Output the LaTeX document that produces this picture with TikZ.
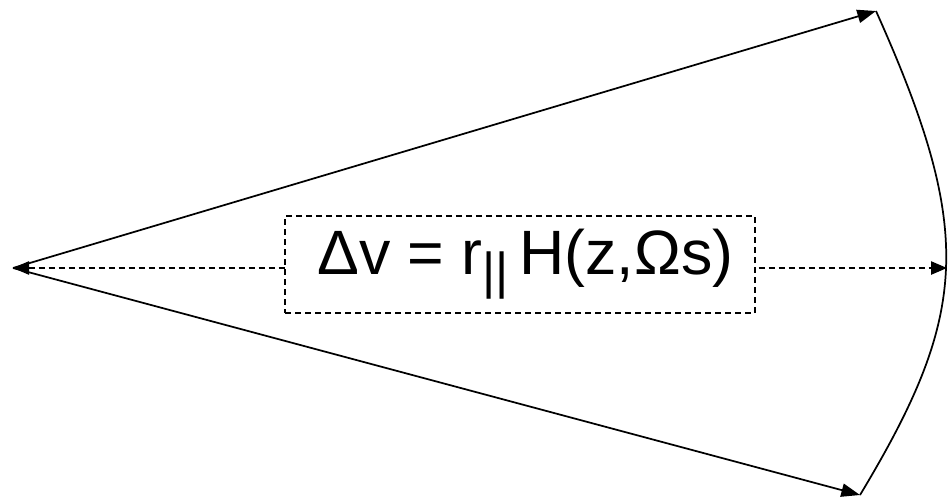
\documentclass[tikz,border=0pt]{standalone}
\usepackage{fontspec}
\setmainfont{Liberation Sans}
\usetikzlibrary{arrows.meta}
\tikzset{
  ray/.style={line width=1.3pt, -{Triangle[length=14pt,width=10pt]}},
  axis/.style={line width=1pt, dash pattern=on 4.5pt off 3pt,
    {Triangle[length=12pt,width=10pt]}-{Triangle[length=12pt,width=10pt]}},
  formula/.style={draw, line width=0.9pt, dash pattern=on 4.5pt off 3pt,
    fill=white, minimum width=470*0.75pt, minimum height=97*0.75pt,
    inner sep=0pt, font=\fontsize{47pt}{49pt}\selectfont}
}
\begin{document}
\begin{tikzpicture}[x=0.75pt, y=-0.75pt]
  \useasboundingbox (0,0) rectangle (948,497);

  % ---------- corners of the sector ----------
  \coordinate (origin) at (13,268);
  \coordinate (top) at (876,11);
  \coordinate (bottom) at (860,495);
  \coordinate (rightend) at (947,268);

  % ---------- dashed axis and formula box ----------
  \draw[axis] (origin) -- (rightend);
  \node[formula] (box) at (520,264.5)
    {\hspace{8pt}Δv = r\raisebox{-0.22em}{\fontsize{38pt}{38pt}\selectfont ||}\,H(z,Ωs)};

  % ---------- rays and arc ----------
  \draw[ray] (origin) -- (top);
  \draw[ray] (origin) -- (bottom);
  \draw[line width=1.3pt] (top) .. controls (975,232) and (969,314) .. (bottom);
\end{tikzpicture}
\end{document}
